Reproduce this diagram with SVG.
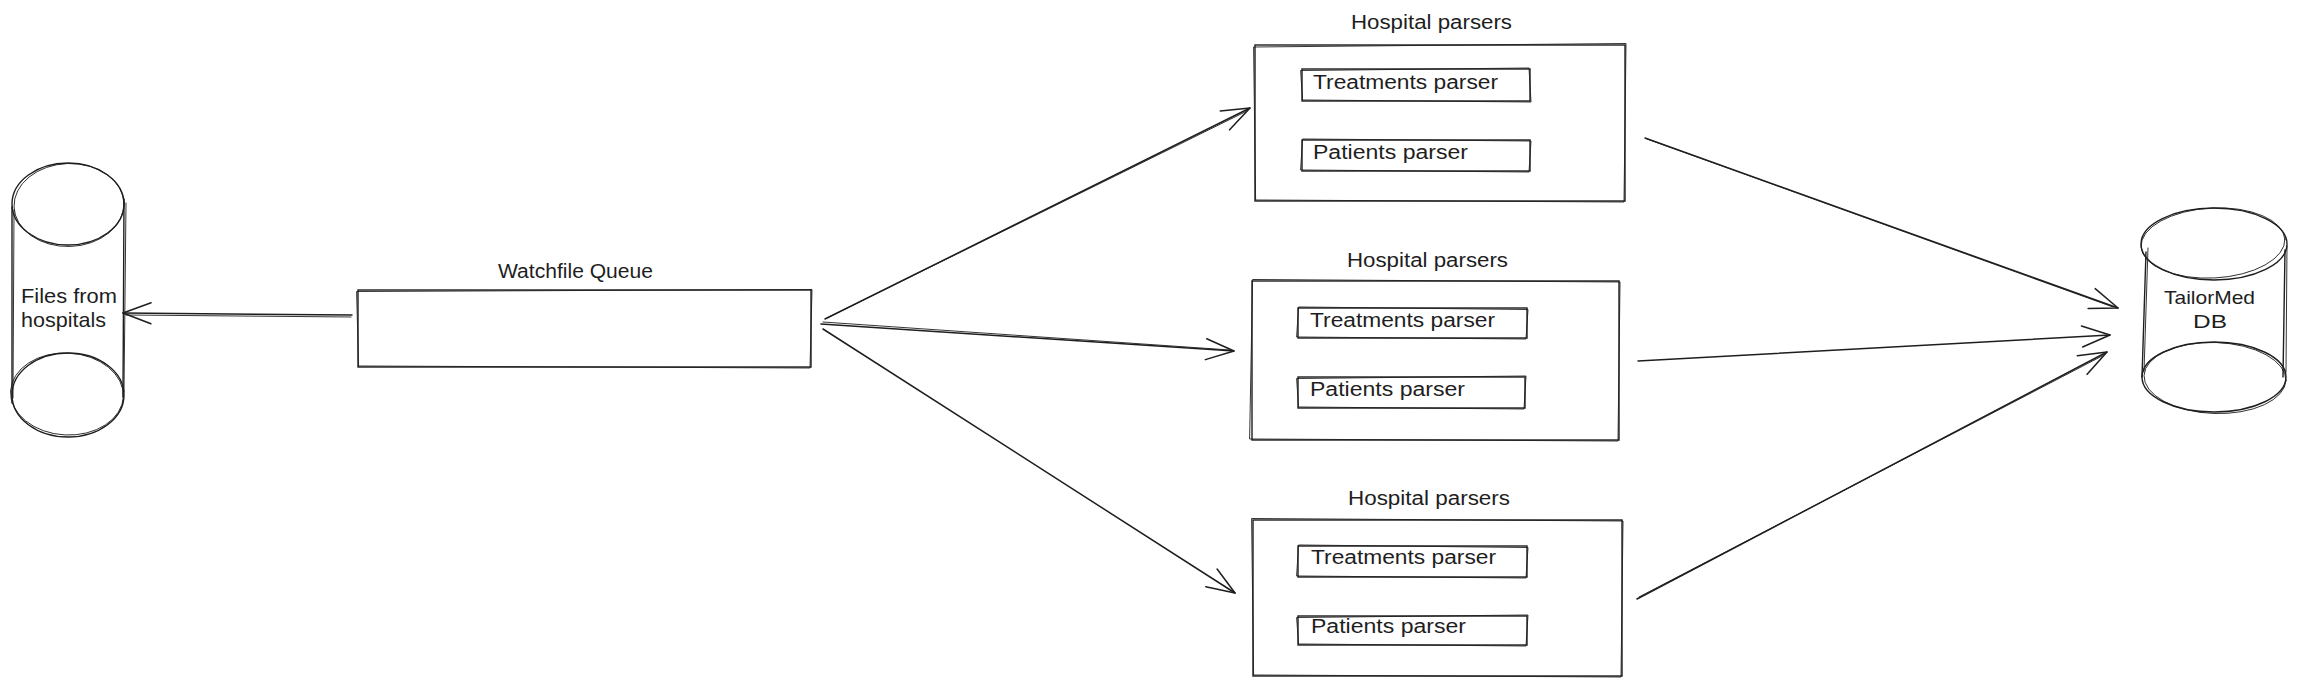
<svg xmlns="http://www.w3.org/2000/svg" width="2297" height="686" viewBox="0 0 2297 686">
  <style>
    .sk { fill: none; stroke: #1e1e1e; stroke-width: 1.4; stroke-linecap: round; stroke-linejoin: round; }
    .sk2 { fill: none; stroke: #1e1e1e; stroke-width: 0.9; stroke-linecap: round; stroke-linejoin: round; }
    .box { fill: #ffffff; stroke: #1e1e1e; stroke-width: 1.4; }
    .conn { fill: none; stroke: #1e1e1e; stroke-width: 1.5; stroke-linecap: round; }
    .t { font-family: "Liberation Sans", Arial, sans-serif; fill: #1e1e1e; }
    .t20 { font-size: 21px; }
    .t19 { font-size: 20px; }
    .t18 { font-size: 19px; }
  </style>
  <defs>
    <marker id="arrow" markerUnits="userSpaceOnUse" markerWidth="40" markerHeight="30" viewBox="-32 -15 36 30" refX="0" refY="0" orient="auto">
      <path d="M -28 -10.5 L 0 0 L -28 10.5" fill="none" stroke="#1e1e1e" stroke-width="1.5" stroke-linecap="round" stroke-linejoin="round"/>
    </marker>
  </defs>
  <rect width="2297" height="686" fill="#ffffff"/>

  <g id="connectors">
    <path class="conn" d="M 352 315 L 123 313" marker-end="url(#arrow)"/>
    <path class="sk2" d="M 351 317 L 126 315"/>
    <path class="conn" d="M 825 319 L 1250 108" marker-end="url(#arrow)"/>
    <path class="sk2" d="M 827 318 L 1247 111"/>
    <path class="conn" d="M 821 324 L 1234 351" marker-end="url(#arrow)"/>
    <path class="sk2" d="M 823 322 L 1230 350"/>
    <path class="conn" d="M 823 329 L 1235 593" marker-end="url(#arrow)"/>
    <path class="conn" d="M 1645 138 L 2118 308" marker-end="url(#arrow)"/>
    <path class="sk2" d="M 1647 139 L 2113 307"/>
    <path class="conn" d="M 1638 361 L 2110 335" marker-end="url(#arrow)"/>
    <path class="conn" d="M 1637 599 L 2107 352" marker-end="url(#arrow)"/>
    <path class="sk2" d="M 1639 597 L 2104 355"/>
  </g>

  <g id="files-from-hospitals">
    <ellipse class="sk" cx="68" cy="204" rx="56" ry="41"/>
    <ellipse class="sk2" cx="69" cy="205" rx="55" ry="41.5" transform="rotate(-2 69 205)"/>
    <ellipse class="sk" cx="68" cy="395" rx="56" ry="42"/>
    <ellipse class="sk2" cx="67" cy="394" rx="56.5" ry="41" transform="rotate(3 67 394)"/>
    <path class="sk" d="M 12 207 L 12 403"/>
    <path class="sk2" d="M 14 210 L 13 398"/>
    <path class="sk" d="M 124 199 L 123 397"/>
    <path class="sk2" d="M 126 203 L 124 392"/>
    <text class="t t20" x="21" y="303" textLength="96" lengthAdjust="spacingAndGlyphs">Files from</text>
    <text class="t t20" x="21" y="327" textLength="85" lengthAdjust="spacingAndGlyphs">hospitals</text>
  </g>

  <g id="watchfile-queue">
    <text class="t t19" x="498" y="278" textLength="155" lengthAdjust="spacingAndGlyphs">Watchfile Queue</text>
    <rect class="box" x="358" y="290" width="453" height="77"/>
    <path class="sk2" d="M 357 291.5 L 812 289.5 L 810 368 L 359 366 Z"/>
  </g>

  <g id="hospital-parsers-1">
    <text class="t t19" x="1351" y="29" textLength="161" lengthAdjust="spacingAndGlyphs">Hospital parsers</text>
    <rect class="box" x="1255" y="45" width="370" height="156"/>
    <path class="sk2" d="M 1254 47 L 1626 43.5 L 1624 202 L 1256 200 Z"/>
    <g id="treatments-parser-1">
      <rect class="box" x="1302" y="69" width="228" height="32"/>
      <path class="sk2" d="M 1301 70.5 L 1529 68 L 1531 102 L 1303 100 Z"/>
      <text class="t t19" x="1313" y="89" textLength="185" lengthAdjust="spacingAndGlyphs">Treatments parser</text>
    </g>
    <g id="patients-parser-1">
      <rect class="box" x="1302" y="140" width="228" height="31"/>
      <path class="sk2" d="M 1303 139 L 1531 141 L 1529 172 L 1301 170 Z"/>
      <text class="t t19" x="1313" y="159" textLength="155" lengthAdjust="spacingAndGlyphs">Patients parser</text>
    </g>
  </g>

  <g id="hospital-parsers-2">
    <text class="t t19" x="1347" y="267" textLength="161" lengthAdjust="spacingAndGlyphs">Hospital parsers</text>
    <rect class="box" x="1252" y="281" width="367" height="159"/>
    <path class="sk2" d="M 1253 279.5 L 1620 282 L 1618 441 L 1250 439 Z"/>
    <g id="treatments-parser-2">
      <rect class="box" x="1298" y="308" width="229" height="30"/>
      <path class="sk2" d="M 1299 307 L 1528 309.5 L 1526 339 L 1297 337 Z"/>
      <text class="t t19" x="1310" y="327" textLength="185" lengthAdjust="spacingAndGlyphs">Treatments parser</text>
    </g>
    <g id="patients-parser-2">
      <rect class="box" x="1298" y="377" width="227" height="31"/>
      <path class="sk2" d="M 1297 378.5 L 1526 376 L 1524 409 L 1299 407 Z"/>
      <text class="t t19" x="1310" y="396" textLength="155" lengthAdjust="spacingAndGlyphs">Patients parser</text>
    </g>
  </g>

  <g id="hospital-parsers-3">
    <text class="t t19" x="1348" y="505" textLength="162" lengthAdjust="spacingAndGlyphs">Hospital parsers</text>
    <rect class="box" x="1253" y="520" width="369" height="156"/>
    <path class="sk2" d="M 1252 518.5 L 1623 521 L 1621 677 L 1254 675 Z"/>
    <g id="treatments-parser-3">
      <rect class="box" x="1298" y="546" width="229" height="31"/>
      <path class="sk2" d="M 1299 545 L 1528 547.5 L 1526 578 L 1297 576 Z"/>
      <text class="t t19" x="1311" y="564" textLength="185" lengthAdjust="spacingAndGlyphs">Treatments parser</text>
    </g>
    <g id="patients-parser-3">
      <rect class="box" x="1298" y="616" width="229" height="29"/>
      <path class="sk2" d="M 1297 617.5 L 1528 615 L 1526 646 L 1299 644 Z"/>
      <text class="t t19" x="1311" y="633" textLength="155" lengthAdjust="spacingAndGlyphs">Patients parser</text>
    </g>
  </g>

  <g id="tailormed-db">
    <ellipse class="sk" cx="2214" cy="244" rx="73" ry="36"/>
    <ellipse class="sk2" cx="2213" cy="243" rx="72" ry="35" transform="rotate(-3 2213 243)"/>
    <ellipse class="sk" cx="2214" cy="377" rx="72" ry="35"/>
    <ellipse class="sk2" cx="2215" cy="378" rx="71" ry="35.5" transform="rotate(2 2215 378)"/>
    <path class="sk" d="M 2146 252 L 2142 377"/>
    <path class="sk2" d="M 2148 248 L 2144 372"/>
    <path class="sk" d="M 2285 250 L 2283 377"/>
    <path class="sk2" d="M 2287 246 L 2286 372"/>
    <text class="t t18" x="2164" y="304" textLength="91" lengthAdjust="spacingAndGlyphs">TailorMed</text>
    <text class="t t18" x="2193" y="328" textLength="34" lengthAdjust="spacingAndGlyphs">DB</text>
  </g>
</svg>
